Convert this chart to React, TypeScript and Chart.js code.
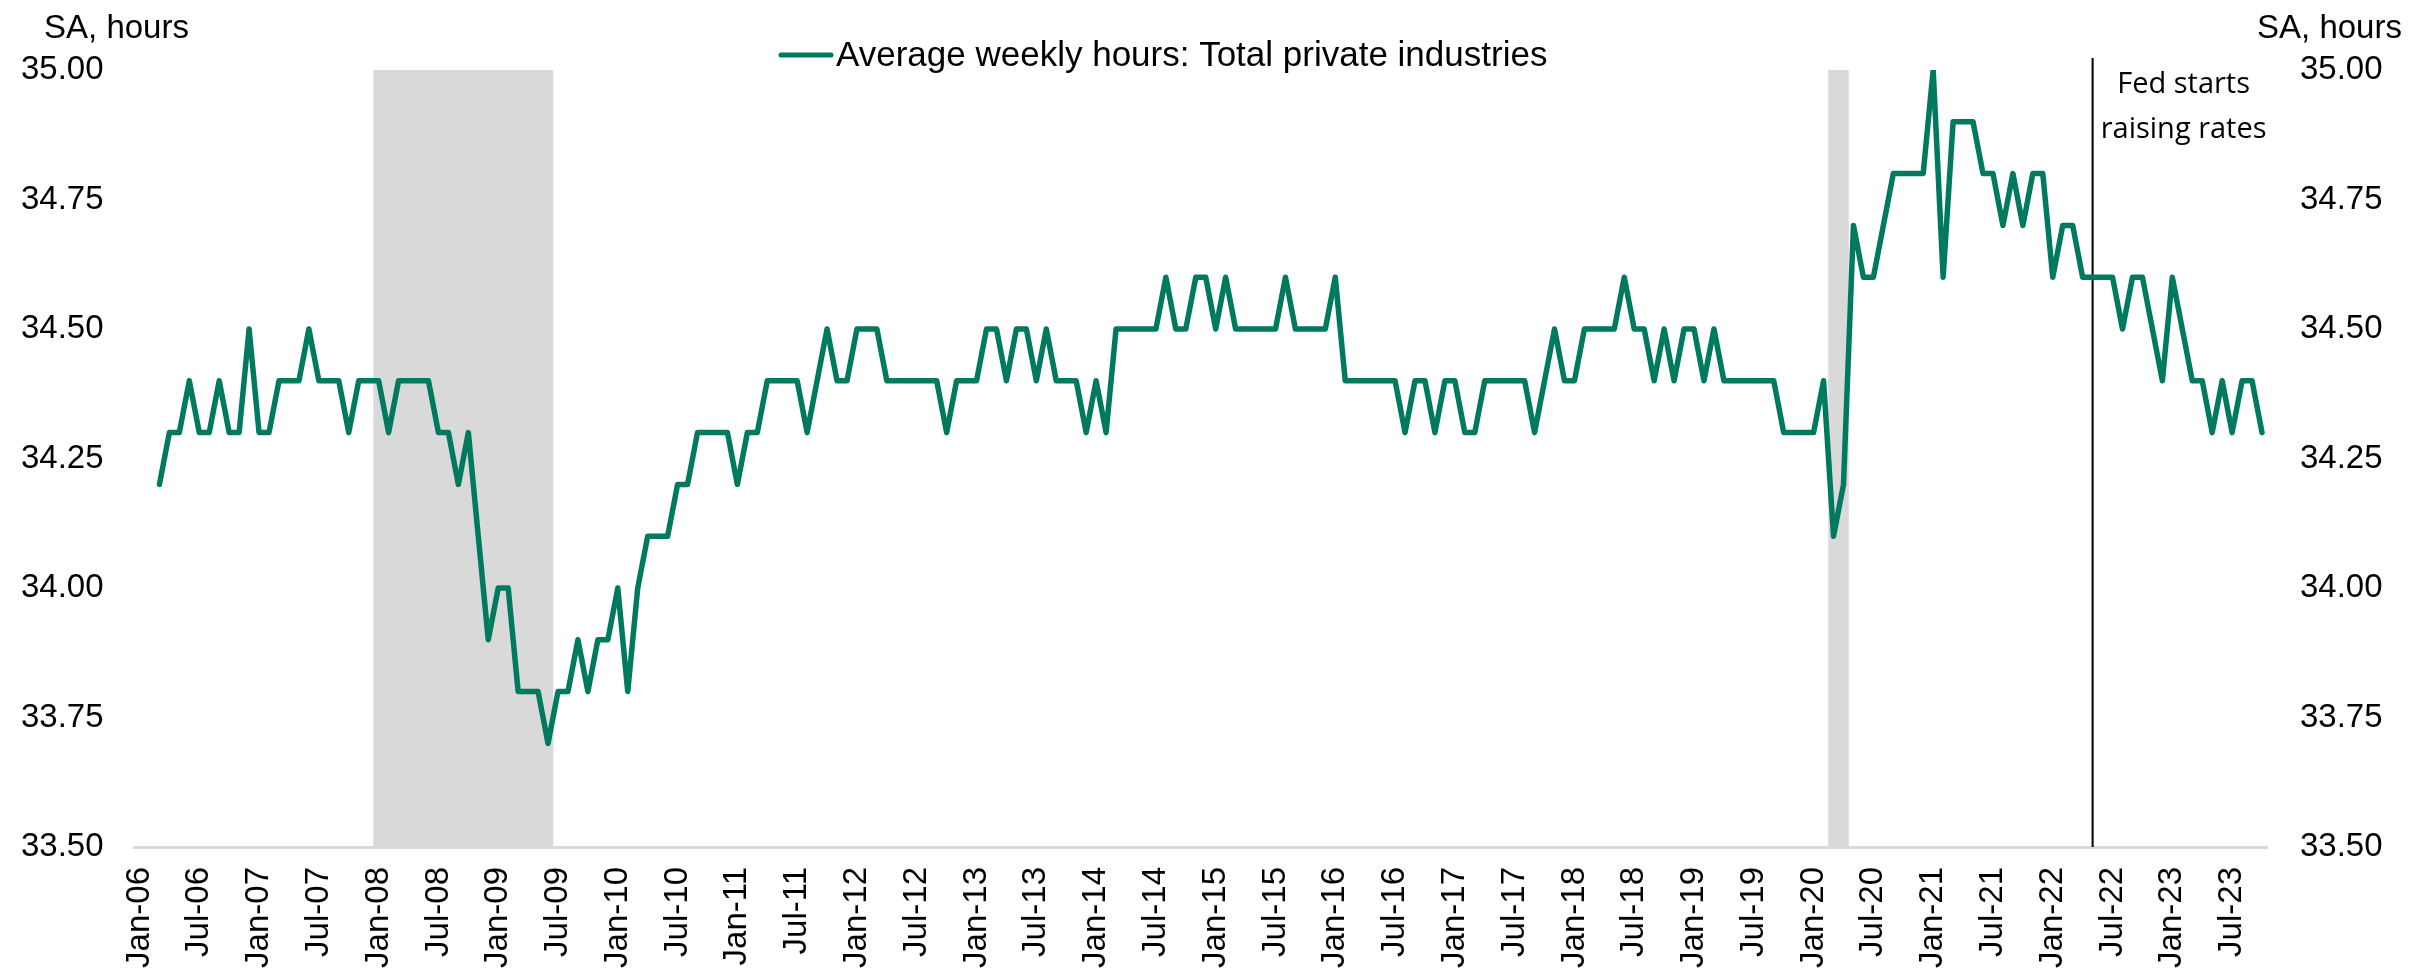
import React, { useEffect, useRef } from "react";
import { Chart, registerables } from "chart.js";

Chart.register(...registerables);

// ---------- data ----------
const MONTH_ABBR = ["Jan", "Feb", "Mar", "Apr", "May", "Jun", "Jul", "Aug", "Sep", "Oct", "Nov", "Dec"];
const YEARS = [2006, 2007, 2008, 2009, 2010, 2011, 2012, 2013, 2014, 2015, 2016, 2017, 2018, 2019, 2020, 2021, 2022, 2023];

// Average weekly hours, total private, SA (Jan..Dec of each year)
const HOURS_2006 = [null, null, 34.2, 34.3, 34.3, 34.4, 34.3, 34.3, 34.4, 34.3, 34.3, 34.5];
const HOURS_2007 = [34.3, 34.3, 34.4, 34.4, 34.4, 34.5, 34.4, 34.4, 34.4, 34.3, 34.4, 34.4];
const HOURS_2008 = [34.4, 34.3, 34.4, 34.4, 34.4, 34.4, 34.3, 34.3, 34.2, 34.3, 34.1, 33.9];
const HOURS_2009 = [34.0, 34.0, 33.8, 33.8, 33.8, 33.7, 33.8, 33.8, 33.9, 33.8, 33.9, 33.9];
const HOURS_2010 = [34.0, 33.8, 34.0, 34.1, 34.1, 34.1, 34.2, 34.2, 34.3, 34.3, 34.3, 34.3];
const HOURS_2011 = [34.2, 34.3, 34.3, 34.4, 34.4, 34.4, 34.4, 34.3, 34.4, 34.5, 34.4, 34.4];
const HOURS_2012 = [34.5, 34.5, 34.5, 34.4, 34.4, 34.4, 34.4, 34.4, 34.4, 34.3, 34.4, 34.4];
const HOURS_2013 = [34.4, 34.5, 34.5, 34.4, 34.5, 34.5, 34.4, 34.5, 34.4, 34.4, 34.4, 34.3];
const HOURS_2014 = [34.4, 34.3, 34.5, 34.5, 34.5, 34.5, 34.5, 34.6, 34.5, 34.5, 34.6, 34.6];
const HOURS_2015 = [34.5, 34.6, 34.5, 34.5, 34.5, 34.5, 34.5, 34.6, 34.5, 34.5, 34.5, 34.5];
const HOURS_2016 = [34.6, 34.4, 34.4, 34.4, 34.4, 34.4, 34.4, 34.3, 34.4, 34.4, 34.3, 34.4];
const HOURS_2017 = [34.4, 34.3, 34.3, 34.4, 34.4, 34.4, 34.4, 34.4, 34.3, 34.4, 34.5, 34.4];
const HOURS_2018 = [34.4, 34.5, 34.5, 34.5, 34.5, 34.6, 34.5, 34.5, 34.4, 34.5, 34.4, 34.5];
const HOURS_2019 = [34.5, 34.4, 34.5, 34.4, 34.4, 34.4, 34.4, 34.4, 34.4, 34.3, 34.3, 34.3];
const HOURS_2020 = [34.3, 34.4, 34.1, 34.2, 34.7, 34.6, 34.6, 34.7, 34.8, 34.8, 34.8, 34.8];
const HOURS_2021 = [35.0, 34.6, 34.9, 34.9, 34.9, 34.8, 34.8, 34.7, 34.8, 34.7, 34.8, 34.8];
const HOURS_2022 = [34.6, 34.7, 34.7, 34.6, 34.6, 34.6, 34.6, 34.5, 34.6, 34.6, 34.5, 34.4];
const HOURS_2023 = [34.6, 34.5, 34.4, 34.4, 34.3, 34.4, 34.3, 34.4, 34.4, 34.3];

const HOURS_BY_YEAR: (number | null)[][] = [
  HOURS_2006, HOURS_2007, HOURS_2008, HOURS_2009, HOURS_2010, HOURS_2011,
  HOURS_2012, HOURS_2013, HOURS_2014, HOURS_2015, HOURS_2016, HOURS_2017,
  HOURS_2018, HOURS_2019, HOURS_2020, HOURS_2021, HOURS_2022, HOURS_2023,
];

// recession shading (first and last shaded month)
const RECESSIONS: [string, string][] = [
  ["Jan-08", "Jun-09"],
  ["Mar-20", "Apr-20"],
];

const FED_MONTH = "May-22";
const FED_TEXT = ["Fed starts", "raising rates"];
const SERIES_NAME = "Average weekly hours: Total private industries";
const AXIS_UNIT = "SA, hours";
const Y_TICKS = [33.5, 33.75, 34.0, 34.25, 34.5, 34.75, 35.0];
const Y_MIN = 33.5;
const Y_MAX = 35.0;

// ---------- derived ----------
const LABELS: string[] = [];
const HOURS: (number | null)[] = [];
YEARS.forEach((yr, yi) => {
  HOURS_BY_YEAR[yi].forEach((v, m) => {
    LABELS.push(`${MONTH_ABBR[m]}-${String(yr).slice(2)}`);
    HOURS.push(v);
  });
});
const RECESSION_DATA = LABELS.map((_, i) =>
  RECESSIONS.some(([a, b]) => i >= LABELS.indexOf(a) && i <= LABELS.indexOf(b)) ? Y_MAX : null
);

// ---------- styles ----------
const GREEN = "#007A5E";
const GREY = "#D9D9D9";
const FONT = "'Liberation Sans', Arial, Helvetica, sans-serif";
const NOTE_FONT = "'Open Sans', 'Noto Sans', sans-serif";

const overlayPlugin = {
  id: "overlay",
  beforeDatasetsDraw(chart: any) {
    const { ctx, chartArea, scales } = chart;
    const x = scales.x.getPixelForValue(LABELS.indexOf(FED_MONTH));
    ctx.save();
    ctx.strokeStyle = "#000";
    ctx.lineWidth = 2;
    ctx.beginPath();
    ctx.moveTo(x, chartArea.top - 12);
    ctx.lineTo(x, chartArea.bottom);
    ctx.stroke();
    ctx.restore();
  },
  afterDraw(chart: any) {
    const { ctx, chartArea, scales } = chart;
    ctx.save();
    // Fed annotation
    const fx = scales.x.getPixelForValue(LABELS.indexOf(FED_MONTH));
    ctx.fillStyle = "#000";
    ctx.font = `29px ${NOTE_FONT}`;
    ctx.textAlign = "center";
    ctx.textBaseline = "alphabetic";
    ctx.fillText(FED_TEXT[0], fx + 91, chartArea.top + 23);
    ctx.fillText(FED_TEXT[1], fx + 91, chartArea.top + 68);

    // unit labels
    ctx.font = `33px ${FONT}`;
    ctx.fillText(AXIS_UNIT, 116.5, 38);
    ctx.fillText(AXIS_UNIT, 2329.5, 38);

    // legend
    ctx.strokeStyle = GREEN;
    ctx.lineWidth = 5;
    ctx.lineCap = "round";
    ctx.beginPath();
    ctx.moveTo(781, 55);
    ctx.lineTo(831, 55);
    ctx.stroke();
    ctx.font = `35px ${FONT}`;
    ctx.textAlign = "left";
    ctx.fillText(SERIES_NAME, 836, 66);
    ctx.restore();
  },
};

const tickFont = { family: FONT, size: 33 };

export default function App() {
  const ref = useRef<HTMLCanvasElement | null>(null);

  useEffect(() => {
    document.body.style.margin = "0";
    const canvas = ref.current;
    if (!canvas) return;
    const chart = new Chart(canvas, {
      type: "line",
      data: {
        labels: LABELS,
        datasets: [
          {
            type: "line",
            label: SERIES_NAME,
            data: HOURS,
            borderColor: GREEN,
            backgroundColor: GREEN,
            borderWidth: 5.5,
            pointRadius: 0,
            pointHoverRadius: 0,
            tension: 0,
            borderJoinStyle: "round",
            borderCapStyle: "round",
            fill: false,
            order: 0,
            yAxisID: "y",
          } as any,
          {
            type: "bar",
            label: "Recession",
            data: RECESSION_DATA,
            backgroundColor: GREY,
            borderWidth: 0,
            barPercentage: 1,
            categoryPercentage: 1,
            order: 1,
            yAxisID: "y",
          } as any,
        ],
      },
      options: {
        responsive: false,
        animation: false,
        devicePixelRatio: 1,
        layout: { padding: { top: 70, left: 0, right: 0, bottom: 0 } },
        plugins: {
          legend: { display: false },
          tooltip: { enabled: false },
        },
        scales: {
          x: {
            type: "category",
            offset: true,
            grid: { display: false, drawTicks: false },
            border: { display: true, color: GREY, width: 3 },
            ticks: {
              autoSkip: false,
              minRotation: 90,
              maxRotation: 90,
              padding: 20,
              color: "#000",
              font: tickFont,
              callback: (_v: any, index: number) => {
                const l = LABELS[index];
                return l.startsWith("Jan") || l.startsWith("Jul") ? l : null;
              },
            },
            afterFit: (s: any) => {
              s.height = 125;
            },
          },
          y: {
            position: "left",
            min: Y_MIN,
            max: Y_MAX,
            grid: { display: false, drawTicks: false },
            border: { display: false },
            ticks: {
              padding: 31,
              color: "#000",
              font: tickFont,
              callback: (v: any) => Number(v).toFixed(2),
            },
            afterBuildTicks: (s: any) => {
              s.ticks = Y_TICKS.map((v) => ({ value: v }));
            },
            afterFit: (s: any) => {
              s.width = 134.5;
            },
          },
          y2: {
            position: "right",
            min: Y_MIN,
            max: Y_MAX,
            grid: { display: false, drawTicks: false },
            border: { display: false },
            ticks: {
              padding: 33,
              color: "#000",
              font: tickFont,
              callback: (v: any) => Number(v).toFixed(2),
            },
            afterBuildTicks: (s: any) => {
              s.ticks = Y_TICKS.map((v) => ({ value: v }));
            },
            afterFit: (s: any) => {
              s.width = 145;
            },
          },
        },
      } as any,
      plugins: [overlayPlugin],
    });
    return () => chart.destroy();
  }, []);

  return (
    <div style={{ width: 2412, height: 972 }}>
      <canvas ref={ref} width={2412} height={972} />
    </div>
  );
}
